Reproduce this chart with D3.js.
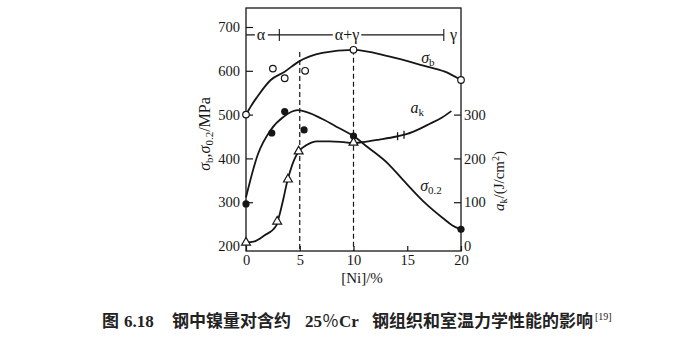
<!DOCTYPE html>
<html>
<head>
<meta charset="utf-8">
<script src="https://cdn.jsdelivr.net/npm/d3@7"></script>
<style>
  body { margin: 0; background: #fff; }
  svg { display: block; }
  .serif { font-family: "Liberation Serif", "DejaVu Serif", serif; }
</style>
</head>
<body>
<svg id="chart" width="700" height="339"></svg>
<script>
// Ni content (wt.%) versus properties of ~25% Cr steel
const sigmaBPoints   = [[0, 500], [2.5, 605], [3.6, 583], [5.5, 600], [10, 648], [20, 579]];
const sigmaBCurve    = [[0, 500], [0.5, 521], [1.0, 539], [2.3, 579], [3.6, 598], [4.9, 621], [7.1, 641], [10, 648], [13.3, 633], [16.5, 612], [18.5, 598], [20, 579]];
const sigma02Points  = [[0, 296], [2.4, 458], [3.6, 507], [5.4, 465], [10, 451], [20, 238]];
const sigma02Curve   = [[0, 311], [1.1, 409], [2.3, 465], [3.5, 495], [4.8, 510], [7.1, 490], [8.6, 470], [10, 451], [11.3, 426], [13.3, 386], [14.6, 351], [16.5, 302], [18.3, 264], [19.2, 247], [20, 238]];
const akPoints       = [[0, 8], [2.9, 56], [3.9, 152], [4.9, 216], [10, 236]];
const akCurve        = [[0, 8], [0.7, 10], [1.7, 24], [2.8, 46], [3.05, 65], [3.5, 110], [3.8, 144], [4.0, 162], [4.5, 198], [4.9, 216], [5.6, 230], [6.6, 239], [7.8, 239], [9.1, 237], [10, 235], [10.8, 237], [12.4, 243], [14, 250], [15, 256], [16.2, 268], [17.1, 279], [18.2, 293], [19.1, 308]];
const akBreak        = [14.1, 14.7];

const niTicks        = [0, 5, 10, 15, 20];
const strengthTicks  = [200, 300, 400, 500, 600, 700];
const akTicks        = [0, 100, 200, 300];

// phase regions along the top of the plot
const phaseNames     = ["α", "α+γ", "γ"];
const phaseLabelNi   = [1.4, 9.4, 19.3];
const phaseBounds    = [3.1, 18.4];
const phaseLevel     = 682;

// vertical guides at the phase-region compositions
const guideNi        = [5, 10];
const guideTop       = [643, 648];

const svg = d3.select("#chart");
const ink = "#161616";

const frame = { left: 246, right: 461, top: 8, bottom: 251 };

const x  = d3.scaleLinear().domain([0, 20]).range([frame.left, frame.right]);
const yL = d3.scaleLinear().domain([200, 700]).range([246, 27]);
const yR = d3.scaleLinear().domain([0, 500]).range([246, 27]);

// frame
svg.append("rect")
  .attr("x", frame.left).attr("y", frame.top)
  .attr("width", frame.right - frame.left).attr("height", frame.bottom - frame.top)
  .attr("fill", "none").attr("stroke", ink).attr("stroke-width", 1.3);

function styleAxis(g, hideTickAt) {
  g.select(".domain").remove();
  g.selectAll(".tick line").attr("stroke", ink).attr("stroke-width", 1.2);
  g.selectAll(".tick text").attr("fill", ink)
    .attr("font-family", "Liberation Serif, DejaVu Serif, serif").attr("font-size", 14.5);
  if (hideTickAt !== undefined) {
    g.selectAll(".tick").filter(d => d === hideTickAt).select("line").remove();
  }
}

svg.append("g").attr("transform", `translate(${frame.left},0)`)
  .call(d3.axisLeft(yL).tickValues(strengthTicks).tickSize(-7).tickPadding(6))
  .call(g => styleAxis(g, 200));

svg.append("g").attr("transform", `translate(${frame.right},0)`)
  .call(d3.axisRight(yR).tickValues(akTicks).tickSize(-7).tickPadding(3))
  .call(g => styleAxis(g, 0));

svg.append("g").attr("transform", `translate(0,${frame.bottom})`)
  .call(d3.axisBottom(x).tickValues(niTicks).tickSize(-5).tickPadding(4))
  .call(g => styleAxis(g));

// dashed guides
svg.append("g").selectAll("line").data(guideNi).join("line")
  .attr("x1", d => x(d)).attr("x2", d => x(d))
  .attr("y1", (d, i) => yL(guideTop[i])).attr("y2", frame.bottom)
  .attr("stroke", ink).attr("stroke-width", 1.2).attr("stroke-dasharray", "5,3");

// phase band line
const phaseY = yL(phaseLevel);
const phase = svg.append("g");
phase.append("line")
  .attr("x1", frame.left).attr("x2", x(phaseBounds[1]))
  .attr("y1", phaseY).attr("y2", phaseY)
  .attr("stroke", ink).attr("stroke-width", 1.1);
phase.selectAll("line.bound").data(phaseBounds).join("line").attr("class", "bound")
  .attr("x1", d => x(d)).attr("x2", d => x(d))
  .attr("y1", phaseY - 6).attr("y2", phaseY + 6)
  .attr("stroke", ink).attr("stroke-width", 1.1);
const phaseText = phase.selectAll("g.lab").data(phaseNames).join("g").attr("class", "lab");
phaseText.append("rect").attr("fill", "#fff");
phaseText.append("text")
  .attr("class", "serif")
  .attr("x", (d, i) => x(phaseLabelNi[i]))
  .attr("y", phaseY + 5)
  .attr("text-anchor", "middle")
  .attr("font-size", 16).attr("fill", ink)
  .text(d => d);
phaseText.each(function () {
  const t = d3.select(this).select("text").node().getBBox();
  d3.select(this).select("rect")
    .attr("x", t.x - 2).attr("y", phaseY - 3).attr("width", t.width + 4).attr("height", 6);
});

// curves
const line = (ys) => d3.line().x(d => x(d[0])).y(d => ys(d[1])).curve(d3.curveMonotoneX);
const curves = svg.append("g").attr("fill", "none").attr("stroke", ink).attr("stroke-width", 1.8);
curves.append("path").attr("d", line(yL)(sigmaBCurve));
curves.append("path").attr("d", line(yL)(sigma02Curve));
curves.append("path").attr("d", line(yR)(akCurve));

// break marks on the a_k curve
const akAt = n => {
  const i = d3.bisector(d => d[0]).right(akCurve, n);
  const a = akCurve[i - 1], b = akCurve[i];
  return a[1] + (b[1] - a[1]) * (n - a[0]) / (b[0] - a[0]);
};
svg.append("g").selectAll("line").data(akBreak).join("line")
  .attr("x1", d => x(d)).attr("x2", d => x(d))
  .attr("y1", d => yR(akAt(d)) - 4).attr("y2", d => yR(akAt(d)) + 4)
  .attr("stroke", ink).attr("stroke-width", 1.3);

// markers
svg.append("g").selectAll("circle").data(sigmaBPoints).join("circle")
  .attr("cx", d => x(d[0])).attr("cy", d => yL(d[1])).attr("r", 3.3)
  .attr("fill", "#fff").attr("stroke", ink).attr("stroke-width", 1.2);
svg.append("g").selectAll("circle").data(sigma02Points).join("circle")
  .attr("cx", d => x(d[0])).attr("cy", d => yL(d[1])).attr("r", 3.6)
  .attr("fill", ink);
svg.append("g").selectAll("path").data(akPoints).join("path")
  .attr("transform", d => `translate(${x(d[0])},${yR(d[1])})`)
  .attr("d", d3.symbol(d3.symbolTriangle, 34)())
  .attr("fill", "#fff").attr("stroke", ink).attr("stroke-width", 1.2);

// curve labels
function symLabel(px, py, main, sub, italic) {
  const t = svg.append("text").attr("class", "serif")
    .attr("x", px).attr("y", py).attr("fill", ink).attr("font-size", 16);
  t.append("tspan").attr("font-style", italic ? "italic" : "normal").text(main);
  t.append("tspan").attr("font-size", 11).attr("dy", 3).text(sub);
}
symLabel(x(16.3), yL(618), "σ", "b", true);
symLabel(x(15.3), yR(304), "a", "k", true);
symLabel(x(16.2), yL(325), "σ", "0.2", true);

// axis titles
const leftTitle = svg.append("text").attr("class", "serif")
  .attr("transform", "translate(210,134) rotate(-90)")
  .attr("text-anchor", "middle").attr("font-size", 16).attr("fill", ink);
leftTitle.append("tspan").attr("font-style", "italic").text("σ");
leftTitle.append("tspan").attr("font-size", 11).attr("dy", 3).text("b");
leftTitle.append("tspan").attr("dy", -3).text(",");
leftTitle.append("tspan").attr("font-style", "italic").text("σ");
leftTitle.append("tspan").attr("font-size", 11).attr("dy", 3).text("0.2");
leftTitle.append("tspan").attr("dy", -3).text("/MPa");

const rightTitle = svg.append("text").attr("class", "serif")
  .attr("transform", "translate(504,181) rotate(-90)")
  .attr("text-anchor", "middle").attr("font-size", 15).attr("fill", ink);
rightTitle.append("tspan").attr("font-style", "italic").text("a");
rightTitle.append("tspan").attr("font-size", 10).attr("dy", 3).text("k");
rightTitle.append("tspan").attr("dy", -3).text("/(J/cm");
rightTitle.append("tspan").attr("font-size", 10).attr("dy", -5).text("2");
rightTitle.append("tspan").attr("dy", 5).text(")");

svg.append("text").attr("class", "serif")
  .attr("x", 362).attr("y", 283).attr("text-anchor", "middle")
  .attr("font-size", 15).attr("fill", ink).text("[Ni]/%");

// caption
const cjk = "Noto Sans CJK SC, sans-serif";
const latin = "Liberation Serif, DejaVu Serif, serif";
const cap = svg.append("g").attr("fill", "#222").attr("font-size", 17);
const capNo = cap.append("text").attr("x", 102).attr("y", 327);
capNo.append("tspan").attr("font-family", cjk).attr("font-weight", 700).text("图");
capNo.append("tspan").attr("font-family", latin).attr("font-weight", 700).attr("dx", 5).text("6.18");
cap.append("text").attr("x", 172).attr("y", 327).attr("font-family", cjk).attr("font-weight", 700)
  .text("钢中镍量对含约");
const capCr = cap.append("text").attr("x", 332).attr("y", 327).attr("text-anchor", "middle")
  .attr("font-family", latin).attr("font-weight", 700);
capCr.append("tspan").text("25");
capCr.append("tspan").attr("font-family", cjk).attr("font-weight", 400).text("％");
capCr.append("tspan").text("Cr");
cap.append("text").attr("x", 593).attr("y", 327).attr("text-anchor", "end")
  .attr("font-family", cjk).attr("font-weight", 700).text("钢组织和室温力学性能的影响");
cap.append("text").attr("x", 595).attr("y", 320).attr("font-size", 10)
  .attr("font-family", latin).text("[19]");
</script>
</body>
</html>
